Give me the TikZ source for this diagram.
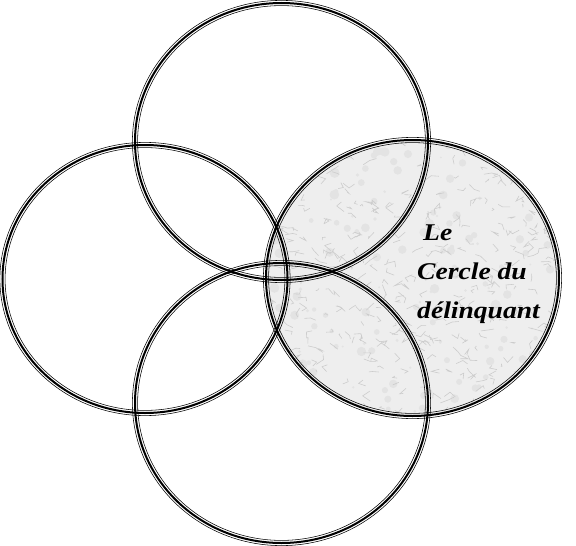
\documentclass[tikz,border=0pt]{standalone}
\usepackage{fontspec}
\newfontfamily\labelfont[FakeStretch=1.15]{Liberation Serif}

\tikzset{
  ring/.style={black, line width=2pt},
  ringedge/.style={black, line width=0.55pt}
}

\begin{document}
\begin{tikzpicture}[x=1pt,y=-1pt]
        \useasboundingbox (0,0) rectangle (576,546);
        % marble fill of the right circle
        \begin{scope}
          \clip (412.5,278) ellipse [x radius=146.5, y radius=138];
          \fill[gray!13] (412.5,278) ellipse [x radius=146.5, y radius=138];
          \pgfmathsetseed{11}
          \foreach \i in {1,...,160}
            \fill[gray!22] ({412.5+150*rand},{278+140*rand}) circle [radius=3+2*rand];
          \foreach \i in {1,...,420}
            \draw[gray!40, line width=0.6pt] ({412.5+150*rand},{278+140*rand}) -- ++({8*rand},{6*rand}) -- ++({8*rand},{6*rand});
        \end{scope}
        % the four rings
        \foreach \cx/\cy/\rx/\ry in {281.5/141.5/146.5/138.5, 145/279/142.5/134, 281.5/403/146.5/140, 412.5/278/146.5/138}{
          \draw[ring] (\cx,\cy) ellipse [x radius=\rx, y radius=\ry];
          \draw[ringedge] (\cx,\cy) ellipse [x radius=\rx+2.6, y radius=\ry+2.6];
          \draw[ringedge] (\cx,\cy) ellipse [x radius=\rx-2.6, y radius=\ry-2.6];
        }
        \node[font=\labelfont\bfseries\itshape\fontsize{24}{39}\selectfont, align=left, anchor=north west, inner sep=0pt] (label) at (417,225) {\hspace{6pt}Le\\Cercle du\\délinquant};
\end{tikzpicture}
\end{document}
